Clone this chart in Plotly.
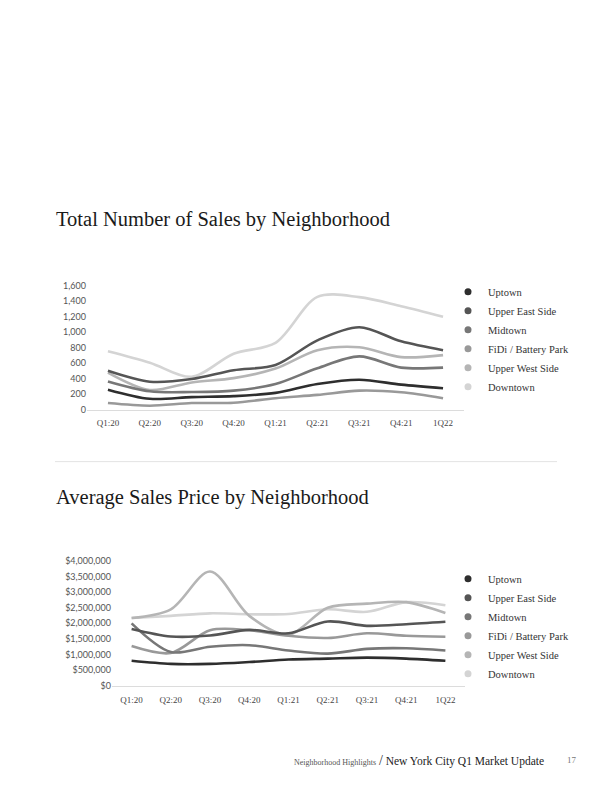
import plotly.graph_objects as go

quarters = ["Q1:20", "Q2:20", "Q3:20", "Q4:20", "Q1:21", "Q2:21", "Q3:21", "Q4:21", "1Q22"]
neighborhoods = ["Uptown", "Upper East Side", "Midtown", "FiDi / Battery Park", "Upper West Side", "Downtown"]
colors = ["#2e2e2e", "#555555", "#777777", "#999999", "#b5b5b5", "#d4d4d4"]

# Total number of sales
sales_uptown = [258, 140, 161, 174, 216, 330, 385, 322, 275]
sales_ues = [500, 360, 394, 508, 576, 893, 1062, 880, 766]
sales_midtown = [364, 237, 228, 245, 330, 533, 686, 542, 542]
sales_fidi = [85, 51, 85, 89, 148, 190, 245, 224, 148]
sales_uws = [478, 254, 351, 406, 529, 766, 804, 677, 703]
sales_downtown = [753, 605, 423, 720, 860, 1452, 1450, 1333, 1198]

# Average sales price
price_uptown = [800000, 700000, 700000, 760000, 840000, 870000, 900000, 870000, 800000]
price_ues = [1820000, 1580000, 1610000, 1790000, 1680000, 2060000, 1920000, 1970000, 2050000]
price_midtown = [2000000, 1080000, 1250000, 1300000, 1130000, 1030000, 1180000, 1200000, 1130000]
price_fidi = [1270000, 1050000, 1780000, 1780000, 1600000, 1530000, 1680000, 1600000, 1570000]
price_uws = [2170000, 2450000, 3660000, 2240000, 1640000, 2500000, 2630000, 2680000, 2330000]
price_downtown = [2170000, 2240000, 2320000, 2290000, 2300000, 2450000, 2370000, 2680000, 2580000]

sales = [sales_uptown, sales_ues, sales_midtown, sales_fidi, sales_uws, sales_downtown]
prices = [price_uptown, price_ues, price_midtown, price_fidi, price_uws, price_downtown]

OFF = 8  # page body margin
W, H = 612 - OFF, 792 - OFF
def fx(px):
    return (px - OFF) / W
def fy(py):
    return 1 - (py - OFF) / H

fig = go.Figure()

order = [5, 4, 3, 2, 1, 0]
for i in order:
    fig.add_trace(go.Scatter(x=quarters, y=sales[i], mode="lines",
                             line=dict(color=colors[i], width=2.6, shape="spline", smoothing=0.9),
                             showlegend=False, xaxis="x", yaxis="y", hoverinfo="skip"))
    fig.add_trace(go.Scatter(x=quarters, y=prices[i], mode="lines",
                             line=dict(color=colors[i], width=2.6, shape="spline", smoothing=0.9),
                             showlegend=False, xaxis="x2", yaxis="y2", hoverinfo="skip"))

for i, name in enumerate(neighborhoods):
    fig.add_trace(go.Scatter(x=[None], y=[None], mode="markers", name=name,
                             marker=dict(color=colors[i], size=7), xaxis="x", yaxis="y", legend="legend"))
    fig.add_trace(go.Scatter(x=[None], y=[None], mode="markers", name=name,
                             marker=dict(color=colors[i], size=7), xaxis="x2", yaxis="y2", legend="legend2"))

tickfont_y = dict(family="Lato, Liberation Sans, sans-serif", size=9, color="#555555")
tickfont_x = dict(family="Liberation Serif, serif", size=9, color="#444444")
legfont = dict(family="Liberation Serif, serif", size=10.5, color="#333333")

fig.update_layout(
    width=W, height=H,
    margin=dict(l=0, r=0, t=0, b=0),
    paper_bgcolor="white", plot_bgcolor="white",
    showlegend=True,
    xaxis=dict(domain=[fx(87), fx(464)], type="category", range=[-0.5, 8.5], showgrid=False, zeroline=False,
               showline=True, linecolor="#dcdcdc", linewidth=1, ticks="", tickfont=tickfont_x, anchor="y",
               ticklabelstandoff=5),
    yaxis=dict(domain=[fy(409.3), fy(283.3)], range=[0, 1600], dtick=200, tickformat=",", showgrid=False,
               zeroline=False, showline=False, ticks="", tickfont=tickfont_y, anchor="x"),
    xaxis2=dict(domain=[fx(112), fx(465)], type="category", range=[-0.5, 8.5], showgrid=False, zeroline=False,
                showline=True, linecolor="#dcdcdc", linewidth=1, ticks="", tickfont=tickfont_x, anchor="y2",
                ticklabelstandoff=5),
    yaxis2=dict(domain=[fy(689.3), fy(562.7)], range=[0, 4000000], dtick=500000, tickformat=",", tickprefix="$",
                showgrid=False, zeroline=False, showline=False, ticks="", tickfont=tickfont_y, anchor="x2"),
    legend=dict(x=fx(448), y=fy(275), xanchor="left", yanchor="top", bgcolor="rgba(0,0,0,0)",
                font=legfont),
    legend2=dict(x=fx(448), y=fy(566), xanchor="left", yanchor="top", bgcolor="rgba(0,0,0,0)",
                 font=legfont),
)

fig.add_annotation(text="Total Number of Sales by Neighborhood", x=fx(54), y=fy(216), xref="paper", yref="paper",
                   xanchor="left", yanchor="middle", showarrow=False,
                   font=dict(family="Liberation Serif, serif", size=20.5, color="#1a1a1a"))
fig.add_annotation(text="Average Sales Price by Neighborhood", x=fx(54), y=fy(498), xref="paper", yref="paper",
                   xanchor="left", yanchor="middle", showarrow=False,
                   font=dict(family="Liberation Serif, serif", size=20.5, color="#1a1a1a"))

fig.add_shape(type="line", xref="paper", yref="paper", x0=fx(55), x1=fx(557), y0=fy(462), y1=fy(462),
              line=dict(color="#e3e3e3", width=1))

fig.add_annotation(text="<span style='font-size:8px;color:#555'>Neighborhood Highlights</span> <span style='font-size:14px;color:#333'>/</span> New York City Q1 Market Update",
                   x=fx(546), y=fy(765), xref="paper", yref="paper", xanchor="right", yanchor="middle", showarrow=False,
                   font=dict(family="Liberation Serif, serif", size=11.5, color="#222222"))
fig.add_annotation(text="17", x=fx(572), y=fy(765), xref="paper", yref="paper", xanchor="center", yanchor="middle",
                   showarrow=False, font=dict(family="Liberation Serif, serif", size=9, color="#777777"))

fig.write_html("out.html")
